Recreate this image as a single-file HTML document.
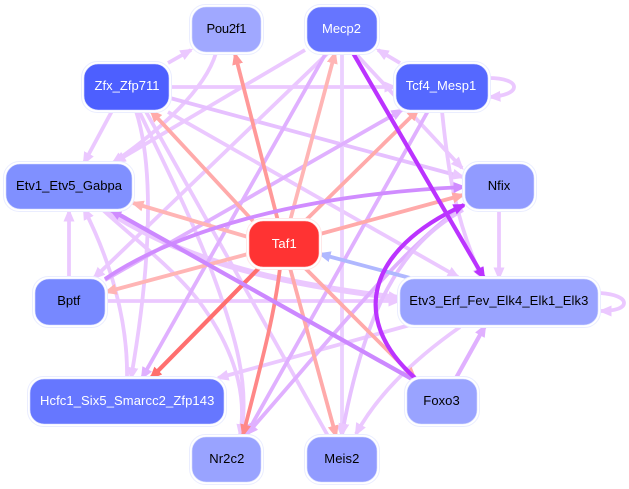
<!DOCTYPE html>
<html><head><meta charset="utf-8"><style>
html,body{margin:0;padding:0;background:#fff;width:629px;height:489px;overflow:hidden}
svg{display:block}
text{font-family:"Liberation Sans",sans-serif;font-size:13px}
.e{fill:none;stroke-width:3.8}
</style></head><body>
<svg width="629" height="489" viewBox="0 0 629 489" xmlns="http://www.w3.org/2000/svg">
<defs>
<marker id="l" markerUnits="userSpaceOnUse" markerWidth="14" markerHeight="12" refX="10.5" refY="6" orient="auto"><path d="M0,0.5L13,6L0,11.5z" fill="#ebc8ff"/></marker>
<marker id="m" markerUnits="userSpaceOnUse" markerWidth="14" markerHeight="12" refX="10.5" refY="6" orient="auto"><path d="M0,0.5L13,6L0,11.5z" fill="#e0b0ff"/></marker>
<marker id="s" markerUnits="userSpaceOnUse" markerWidth="14" markerHeight="12" refX="10.5" refY="6" orient="auto"><path d="M0,0.5L13,6L0,11.5z" fill="#d08cff"/></marker>
<marker id="v" markerUnits="userSpaceOnUse" markerWidth="14" markerHeight="12" refX="10.5" refY="6" orient="auto"><path d="M0,0.5L13,6L0,11.5z" fill="#bb33ff"/></marker>
<marker id="r1" markerUnits="userSpaceOnUse" markerWidth="14" markerHeight="12" refX="10.5" refY="6" orient="auto"><path d="M0,0.5L13,6L0,11.5z" fill="#ffaaaa"/></marker>
<marker id="r2" markerUnits="userSpaceOnUse" markerWidth="14" markerHeight="12" refX="10.5" refY="6" orient="auto"><path d="M0,0.5L13,6L0,11.5z" fill="#ff9999"/></marker>
<marker id="r3" markerUnits="userSpaceOnUse" markerWidth="14" markerHeight="12" refX="10.5" refY="6" orient="auto"><path d="M0,0.5L13,6L0,11.5z" fill="#ffb5b5"/></marker>
<marker id="r4" markerUnits="userSpaceOnUse" markerWidth="14" markerHeight="12" refX="10.5" refY="6" orient="auto"><path d="M0,0.5L13,6L0,11.5z" fill="#ff6f6f"/></marker>
<marker id="r5" markerUnits="userSpaceOnUse" markerWidth="14" markerHeight="12" refX="10.5" refY="6" orient="auto"><path d="M0,0.5L13,6L0,11.5z" fill="#ff8888"/></marker>
<marker id="b" markerUnits="userSpaceOnUse" markerWidth="14" markerHeight="12" refX="10.5" refY="6" orient="auto"><path d="M0,0.5L13,6L0,11.5z" fill="#b0b8ff"/></marker>
</defs>
<rect width="629" height="489" fill="#fff"/>

<!-- light edges -->
<g>
<path class="e" stroke="#ebc8ff" marker-end="url(#l)" d="M168,63L191,50"/>
<path class="e" stroke="#ebc8ff" marker-end="url(#l)" d="M216,53C205,90 160,130 113,163"/>
<path class="e" stroke="#ebc8ff" marker-end="url(#l)" d="M305,50L115,162"/>
<path class="e" stroke="#ebc8ff" marker-end="url(#l)" d="M112,111L84,163"/>
<path class="e" stroke="#ebc8ff" marker-end="url(#l)" d="M170,87L395,87"/>
<path class="e" stroke="#e6c0ff" marker-end="url(#l)" d="M170,98L463,177"/>
<path class="e" stroke="#ebc8ff" marker-end="url(#l)" d="M168,112L458,277"/>
<path class="e" stroke="#ebc8ff" marker-end="url(#l)" d="M136,111C155,170 150,270 131,378"/>
<path class="e" stroke="#ebc8ff" marker-end="url(#l)" d="M127,378C128,320 110,260 84,209"/>
<path class="e" stroke="#ebc8ff" marker-end="url(#l)" d="M139,111C165,165 195,225 215,280C235,335 250,385 241,435"/>
<path class="e" stroke="#ebc8ff" marker-end="url(#l)" d="M103,210C130,235 175,270 198,300C220,329 250,380 240,435"/>
<path class="e" stroke="#ebc8ff" d="M145,110L328,436"/>
<path class="e" stroke="#ebc8ff" marker-end="url(#l)" d="M328,53L94,278"/>
<path class="e" stroke="#ebd0ff" marker-end="url(#l)" d="M342,53L342,436"/>
<path class="e" stroke="#ebc8ff" marker-end="url(#l)" d="M355,53L462,168"/>
<path class="e" stroke="#ebc8ff" marker-end="url(#l)" d="M400,63L378,50"/>
<path class="e" stroke="#ebc8ff" marker-end="url(#l)" d="M442,111C448,170 455,220 482,278"/>
<path class="e" stroke="#ebc8ff" marker-end="url(#l)" d="M499,210L499,278"/>
<path class="e" stroke="#ebc8ff" marker-end="url(#l)" d="M488,78C505,78 514,82 514,87C514,92 505,96 490,97"/>
<path class="e" stroke="#ebc8ff" marker-end="url(#l)" d="M600,293C615,294 624,298 624,303C624,308 615,311 601,311"/>
<path class="e" stroke="#ebc8ff" marker-end="url(#l)" d="M460,327C420,355 380,390 356,434"/>
<path class="e" stroke="#ebc8ff" marker-end="url(#l)" d="M410,325L218,378"/>
<path class="e" stroke="#ebc8ff" marker-end="url(#l)" d="M106,301L399,301"/>
<path class="e" stroke="#ebc8ff" marker-end="url(#l)" d="M69,278L69,211"/>
<path class="e" stroke="#ebc8ff" style="stroke-width:6" marker-end="url(#l)" d="M108,211C190,265 290,285 399,298"/>
</g>

<!-- medium edges -->
<path class="e" stroke="#e0b0ff" marker-end="url(#m)" d="M326,53L142,378"/>
<path class="e" stroke="#e0b0ff" marker-end="url(#m)" d="M105,280L402,110"/>
<path class="e" stroke="#e0b0ff" marker-end="url(#m)" d="M428,111L246,435"/>
<path class="e" stroke="#e0b0ff" marker-end="url(#m)" d="M463,206C400,250 330,340 247,434"/>
<path class="e" stroke="#e6c0ff" marker-end="url(#l)" d="M463,210C400,245 365,310 342,434"/>
<path class="e" stroke="#e0b0ff" style="stroke-width:4.2" marker-end="url(#m)" d="M456,378L485,326"/>

<!-- red edges -->
<path class="e" stroke="#ffaaaa" marker-end="url(#r1)" d="M253,221L151,111"/>
<path class="e" stroke="#ff9999" marker-end="url(#r2)" d="M278,221L235,54"/>
<path class="e" stroke="#ffb5b5" marker-end="url(#r3)" d="M290,221L335,53"/>
<path class="e" stroke="#ffaaaa" marker-end="url(#r1)" d="M305,221L418,110"/>
<path class="e" stroke="#ffb5b5" marker-end="url(#r3)" d="M248,237L133,203"/>
<path class="e" stroke="#ffaaaa" marker-end="url(#r1)" d="M320,234L463,195"/>
<path class="e" stroke="#ffb5b5" marker-end="url(#r3)" d="M248,254L106,292"/>
<path class="e" stroke="#ff6f6f" style="stroke-width:4.2" marker-end="url(#r4)" d="M259,268L151,378"/>
<path class="e" stroke="#ff8888" marker-end="url(#r5)" d="M280,268C275,310 265,350 243,435"/>
<path class="e" stroke="#ffaaaa" marker-end="url(#r1)" d="M290,268L336,436"/>
<path class="e" stroke="#ffaaaa" marker-end="url(#r1)" d="M305,268L415,378"/>
<path class="e" stroke="#b0b8ff" marker-end="url(#b)" d="M410,278L320,254"/>

<!-- strong edges -->
<path class="e" stroke="#d08cff" marker-end="url(#s)" d="M105,279C170,235 290,195 464,187"/>
<path class="e" stroke="#cc88ff" style="stroke-width:4.2" marker-end="url(#s)" d="M412,379L111,210"/>
<path class="e" stroke="#bb33ff" style="stroke-width:4.2" marker-end="url(#v)" d="M415,378C350,320 365,250 464,205"/>
<path class="e" stroke="#bb33ff" style="stroke-width:4.2" marker-end="url(#v)" d="M353,53L484,278"/>

<!-- nodes -->
<g stroke="#eaedff" stroke-width="1" fill="#fff">
<rect x="189.5" y="4.5" width="74" height="50" rx="16"/>
<rect x="304.5" y="4.5" width="75" height="50" rx="16"/>
<rect x="81.5" y="61.5" width="90" height="51" rx="16"/>
<rect x="393.5" y="61.5" width="97" height="51" rx="16"/>
<rect x="3.5" y="161.5" width="131" height="50" rx="16"/>
<rect x="462.5" y="161.5" width="74" height="50" rx="16"/>
<rect x="246.5" y="218.5" width="75" height="51" rx="16" stroke="#ffe8e8"/>
<rect x="32.5" y="276.5" width="75" height="51" rx="16"/>
<rect x="397.5" y="276.5" width="203" height="51" rx="16"/>
<rect x="27.5" y="376.5" width="199" height="50" rx="16"/>
<rect x="404.5" y="376.5" width="75" height="50" rx="16"/>
<rect x="189.5" y="434.5" width="74" height="50" rx="16"/>
<rect x="304.5" y="434.5" width="75" height="50" rx="16"/>
</g>
<g stroke="#d8ddff" stroke-width="0.6">
<rect x="192" y="7" width="69" height="45" rx="14" fill="#a0a8ff"/>
<rect x="307" y="7" width="70" height="45" rx="14" fill="#6675ff"/>
<rect x="84" y="64" width="85" height="46" rx="14" fill="#4d5fff"/>
<rect x="396" y="64" width="92" height="46" rx="14" fill="#5568ff"/>
<rect x="6" y="164" width="126" height="45" rx="14" fill="#8090ff"/>
<rect x="465" y="164" width="69" height="45" rx="14" fill="#919bff"/>
<rect x="249" y="221" width="70" height="46" rx="14" fill="#ff3333" stroke="#ffd0d0"/>
<rect x="35" y="279" width="70" height="46" rx="14" fill="#7788ff"/>
<rect x="400" y="279" width="198" height="46" rx="14" fill="#99a3ff"/>
<rect x="30" y="379" width="194" height="45" rx="14" fill="#6677ff"/>
<rect x="407" y="379" width="70" height="45" rx="14" fill="#99a3ff"/>
<rect x="192" y="437" width="69" height="45" rx="14" fill="#99a3ff"/>
<rect x="307" y="437" width="70" height="45" rx="14" fill="#919bff"/>
</g>
<text x="206.5" y="33" textLength="40" lengthAdjust="spacing" fill="#000">Pou2f1</text>
<text x="322" y="33" textLength="39" lengthAdjust="spacing" fill="#fff">Mecp2</text>
<text x="94.5" y="90" textLength="65" lengthAdjust="spacing" fill="#fff">Zfx_Zfp711</text>
<text x="405.7" y="90" textLength="70.5" lengthAdjust="spacing" fill="#fff">Tcf4_Mesp1</text>
<text x="16" y="190" textLength="106" lengthAdjust="spacing" fill="#000">Etv1_Etv5_Gabpa</text>
<text x="487.7" y="190" textLength="22.6" lengthAdjust="spacing" fill="#000">Nfix</text>
<text x="271.7" y="248" textLength="25" lengthAdjust="spacing" fill="#fff">Taf1</text>
<text x="57.3" y="305" textLength="23" lengthAdjust="spacing" fill="#000">Bptf</text>
<text x="409.3" y="305" textLength="179" lengthAdjust="spacing" fill="#000">Etv3_Erf_Fev_Elk4_Elk1_Elk3</text>
<text x="40" y="405" textLength="174.3" lengthAdjust="spacing" fill="#fff">Hcfc1_Six5_Smarcc2_Zfp143</text>
<text x="423.3" y="405" textLength="36.4" lengthAdjust="spacing" fill="#000">Foxo3</text>
<text x="209.3" y="463" textLength="35" lengthAdjust="spacing" fill="#000">Nr2c2</text>
<text x="324.3" y="463" textLength="35" lengthAdjust="spacing" fill="#000">Meis2</text>
</svg>
</body></html>
